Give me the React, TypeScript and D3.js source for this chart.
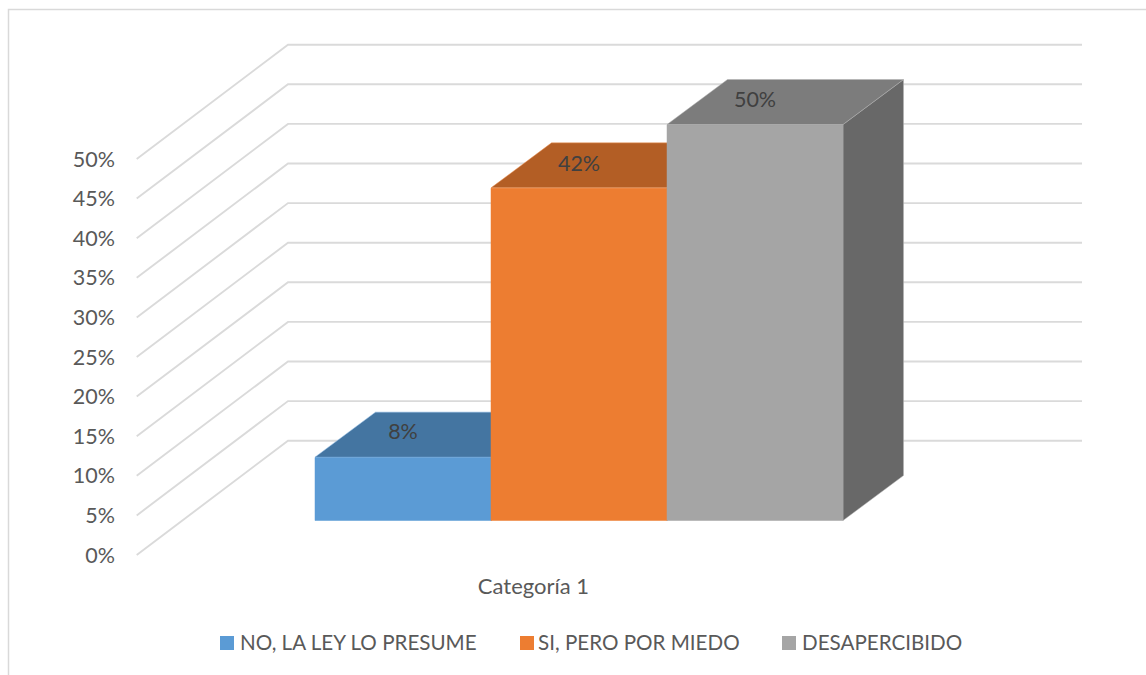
import React from "react";
import * as d3 from "d3";

const seriesNames = ["NO, LA LEY LO PRESUME", "SI, PERO POR MIEDO", "DESAPERCIBIDO"];
const seriesValues = [0.08, 0.42, 0.5];
const valueLabels = ["8%", "42%", "50%"];
const frontColors = ["#5B9BD5", "#ED7D31", "#A5A5A5"];
const topColors = ["#4475A1", "#B35E25", "#7C7C7C"];
const sideColors = ["#38607F", "#8E4B1D", "#686868"];
const edgeColors = ["#7CAFDD", "#F1975A", "#B0B0B0"];
const ticks = [0, 0.05, 0.1, 0.15, 0.2, 0.25, 0.3, 0.35, 0.4, 0.45, 0.5];
const categoryName = "Categoría 1";
const FONT = "Lato, Carlito, 'Open Sans', sans-serif";

export default function App() {
  const W = 1146, H = 675;
  const y = d3.scaleLinear().domain([0, 0.5]).range([520.5, 124.5]);
  const x = d3.scaleBand<number>().domain(seriesValues.map((_, i) => i)).range([315, 843]);
  const bw = x.bandwidth();
  const depthX = 60.5, depthY = 45;
  const wallDy = 79.8;
  const wallX0 = 288, wallX1 = 1082, sideX = 136.7, sideDy = 114.3;
  const poly = d3.line();

  const legendSwatchX = [220, 520, 782];
  const legendTextX = [240, 538, 802];
  const labelPos = [[403, 431], [579, 163], [755, 99]];

  return (
    <svg width={W} height={H} viewBox={`0 0 ${W} ${H}`}
      style={{ position: "absolute", left: 0, top: 0, display: "block", background: "#fff" }}
      fontFamily={FONT}>
      <path d={`M8.5 ${H}V9.5H${W}`} fill="none" stroke="#D9D9D9" strokeWidth={1.5} />
      {ticks.map((t) => {
        const wy = y(t) - wallDy;
        return (
          <g key={t}>
            <path d={poly([[sideX, wy + sideDy], [wallX0, wy], [wallX1, wy]]) as string}
              fill="none" stroke="#DADADA" strokeWidth={1.9} />
            <text x={115} y={wy + sideDy} dy="0.35em" textAnchor="end" fontSize={21.5} fill="#595959">
              {d3.format(".0%")(t)}
            </text>
          </g>
        );
      })}
      {seriesValues.map((v, i) => {
        const x0 = x(i) as number, x1 = x0 + bw, yt = y(v), yb = y(0);
        const edge = edgeColors[i];
        return (
          <g key={i} strokeWidth={0.5} strokeLinejoin="round">
            <path d={poly([[x1, yt], [x1 + depthX, yt - depthY], [x1 + depthX, yb - depthY], [x1, yb]]) + "Z"}
              fill={sideColors[i]} stroke={edge} />
            <path d={poly([[x0, yt], [x0 + depthX, yt - depthY], [x1 + depthX, yt - depthY], [x1, yt]]) + "Z"}
              fill={topColors[i]} stroke={edge} />
            <rect x={x0} y={yt + 0.3} width={bw} height={yb - yt - 0.3} fill={frontColors[i]} stroke={frontColors[i]} />
          </g>
        );
      })}
      {valueLabels.map((l, i) => (
        <text key={l} x={labelPos[i][0]} y={labelPos[i][1]} dy="0.35em" textAnchor="middle" fontSize={21.5} fill="#404040">{l}</text>
      ))}
      <text x={533.5} y={586} dy="0.35em" textAnchor="middle" fontSize={22} fill="#595959">{categoryName}</text>
      {seriesNames.map((n, i) => (
        <g key={n}>
          <rect x={legendSwatchX[i]} y={636} width={14} height={14} fill={frontColors[i]} />
          <text x={legendTextX[i]} y={643} dy="0.35em" fontSize={20.6} fill="#595959">{n}</text>
        </g>
      ))}
    </svg>
  );
}
